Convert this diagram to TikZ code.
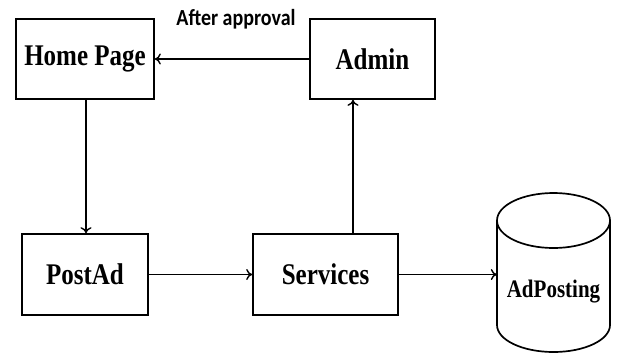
\documentclass[tikz,border=0pt]{standalone}
\usepackage{fontspec}
\setmainfont{Liberation Serif}
\newfontfamily\lblfont{Carlito}
\usetikzlibrary{arrows.meta,calc}
\tikzset{
  box/.style={draw, line width=1.7pt, inner sep=0pt, font=\bfseries\fontsize{25}{25}\selectfont},
  arr/.style={line width=1.8pt, -{To[length=6pt,width=11pt,line width=1.4pt]}},
}
\newcommand{\tall}[1]{\scalebox{1}[1.2]{#1}}
\begin{document}
\begin{tikzpicture}[x=1pt,y=-1pt]
\useasboundingbox (0,0) rectangle (617,354);
\node[box, minimum width=138pt, minimum height=80pt] (home) at (85,59) {\tall{Home Page}};
\node[box, minimum width=125pt, minimum height=80pt] (admin) at (372.5,59) {\tall{Admin}};
\node[box, minimum width=126pt, minimum height=81pt] (postad) at (85,274.5) {\tall{PostAd}};
\node[box, minimum width=145pt, minimum height=81pt] (services) at (325.5,274.5) {\tall{Services}};
% cylinder
\node[minimum width=113pt, minimum height=160pt, inner sep=0pt] (adp) at (553.5,273) {};
\draw[line width=1.7pt] (497,220.5) -- (497,325) arc[start angle=180, end angle=0, x radius=56.5, y radius=27] -- (610,220.5);
\draw[line width=1.7pt] (553.5,220.5) ellipse[x radius=56.5, y radius=27.5];
\node[font=\bfseries\fontsize{21}{21}\selectfont, inner sep=0pt] (adptext) at (553.5,292) {\tall{AdPosting}};
% connectors
\draw[arr] (admin.west) -- node[above=29pt, font=\lblfont\bfseries\fontsize{20}{20}\selectfont, inner sep=0pt, xshift=4pt] (lbl) {\scalebox{1}[1.15]{After approval}} (home.east);
\draw[arr] ([xshift=1pt]home.south) -- ([xshift=1pt]postad.north);
\draw[arr] (postad.east) -- (services.west);
\draw[arr] ([xshift=27.5pt]services.north) -- ([xshift=27.5pt]services.north |- admin.south);
\draw[arr] (services.east) -- (services.east -| adp.west);
\end{tikzpicture}
\end{document}
